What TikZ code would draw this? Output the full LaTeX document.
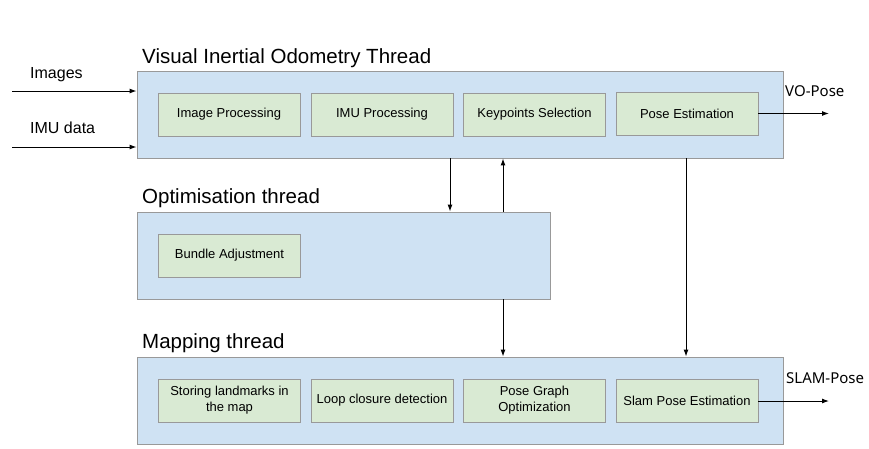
\documentclass[tikz,border=0pt]{standalone}
\usepackage{fontspec}
\setmainfont{Liberation Sans}
\newfontfamily\labfont{Noto Sans}
\usetikzlibrary{arrows.meta}
\definecolor{outerfill}{HTML}{CFE2F3}
\definecolor{innerfill}{HTML}{D9EAD3}
\definecolor{edgegray}{HTML}{999999}
\tikzset{
  x=1pt, y=1pt,
  threadbox/.style={draw=edgegray, fill=outerfill, line width=0.9pt, minimum height=87pt, inner sep=0pt},
  taskbox/.style={draw=edgegray, fill=innerfill, line width=0.9pt, minimum width=142pt, minimum height=43pt, inner sep=0pt, align=center, font=\fontsize{13}{16}\selectfont},
  titletext/.style={anchor=base west, inner sep=0pt, font=\fontsize{20.5}{24}\selectfont},
  iotext/.style={anchor=base west, inner sep=0pt, font=\fontsize{16}{19}\selectfont},
  outtext/.style={anchor=base west, inner sep=0pt, font=\labfont\fontsize{15}{18}\selectfont},
  arr/.style={line width=1pt, -{Latex[length=7pt,width=5pt]}}
}
\begin{document}
\begin{tikzpicture}
\useasboundingbox (0,0) rectangle (869,-448);
% thread boxes
\node[threadbox, minimum width=646pt] (vio) at (460,-114.5) {};
\node[threadbox, minimum width=413pt] (opt) at (343.5,-255.5) {};
\node[threadbox, minimum width=646pt] (map) at (460,-400.5) {};
% titles
\node[titletext] (viot) at (142,-63) {Visual Inertial Odometry Thread};
\node[titletext] (optt) at (142,-203) {Optimisation thread};
\node[titletext] (mapt) at (142,-348) {Mapping thread};
% VIO tasks
\node[taskbox] (imgp) at (229,-114.5) {Image Processing};
\node[taskbox] (imup) at (382,-114.5) {IMU Processing};
\node[taskbox] (kps) at (534.5,-114.5) {Keypoints Selection};
\node[taskbox] (pose) at (687,-113.5) {Pose Estimation};
% optimisation task
\node[taskbox] (ba) at (229.5,-255.5) {Bundle Adjustment};
% mapping tasks
\node[taskbox] (store) at (229.5,-400.5) {Storing landmarks in\\the map};
\node[taskbox] (loop) at (382,-400.5) {Loop closure detection};
\node[taskbox] (pgo) at (534.5,-400.5) {Pose Graph\\Optimization};
\node[taskbox] (slam) at (687,-400.5) {Slam Pose Estimation};
% inputs
\node[iotext] (imgl) at (30,-78) {Images};
\node[iotext] (imul) at (30,-133) {IMU data};
\coordinate (imgin) at (12,-91);
\coordinate (imuin) at (12,-147);
\draw[arr] (imgin) -- (imgin -| vio.west);
\draw[arr] (imuin) -- (imuin -| vio.west);
% outputs
\node[outtext] (vol) at (785,-96) {VO-Pose};
\node[outtext] (slaml) at (786,-383) {SLAM-Pose};
\coordinate (voout) at (829,-113.5);
\coordinate (slamout) at (829,-401);
\draw[arr] (pose.east) -- (voout);
\draw[arr] (slam.east |- slamout) -- (slamout);
% vertical connectors
\coordinate (xa) at (450,0);
\coordinate (xb) at (503,0);
\coordinate (xc) at (686,0);
\draw[arr] (vio.south -| xa) -- (opt.north -| xa);
\draw[arr] (opt.north -| xb) -- (vio.south -| xb);
\draw[arr] (opt.south -| xb) -- (map.north -| xb);
\draw[arr] (vio.south -| xc) -- (map.north -| xc);
\end{tikzpicture}
\end{document}
